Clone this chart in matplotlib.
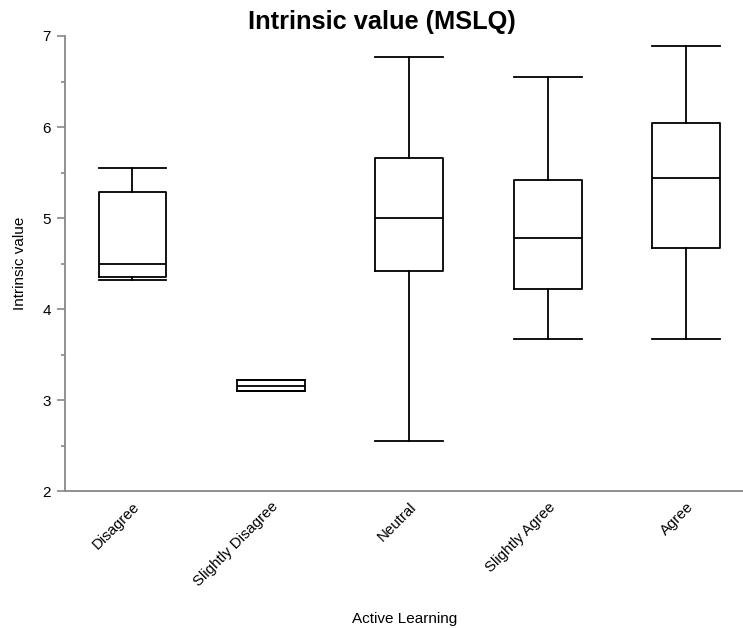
import matplotlib
matplotlib.use("Agg")
import matplotlib.pyplot as plt

categories = ["Disagree", "Slightly Disagree", "Neutral", "Slightly Agree", "Agree"]
whislo = [4.32, 3.10, 2.55, 3.67, 3.67]
q1 = [4.35, 3.10, 4.42, 4.22, 4.67]
med = [4.50, 3.16, 5.00, 4.78, 5.44]
q3 = [5.29, 3.22, 5.66, 5.42, 6.05]
whishi = [5.55, 3.22, 6.77, 6.55, 6.89]

plt.rcParams['font.family'] = ['Liberation Sans', 'DejaVu Sans']

fig = plt.figure(figsize=(7.43, 6.28), dpi=100)
ax = fig.add_axes([65/743, 1-491.3/628, 1-65/743, (491.3-36)/628])

stats = []
for i, c in enumerate(categories):
    stats.append(dict(label=c, whislo=whislo[i], q1=q1[i], med=med[i], q3=q3[i], whishi=whishi[i], fliers=[]))

lp = dict(color='black', linewidth=1.3)
ax.bxp(stats, positions=range(len(categories)), widths=0.49, showfliers=False,
       boxprops=lp, medianprops=lp, whiskerprops=lp, capprops=lp, capwidths=0.49)

ax.set_xlim(-0.487, 4.41)
ax.set_ylim(2, 7)
ax.set_yticks([2, 3, 4, 5, 6, 7])
ax.set_yticks([2.5, 3.5, 4.5, 5.5, 6.5], minor=True)
ax.tick_params(axis='y', which='major', length=6, width=1.2, color='#888888', labelsize=11, pad=4)
ax.tick_params(axis='y', which='minor', length=3, width=1.2, color='#888888')
ax.tick_params(axis='x', length=0, labelsize=10.8, pad=6)
ax.set_xticks(range(len(categories)))
ax.set_xticklabels(categories, rotation=45, ha='right', rotation_mode='anchor')
for s in ['top', 'right']:
    ax.spines[s].set_visible(False)
for s in ['left', 'bottom']:
    ax.spines[s].set_color('#888888')
    ax.spines[s].set_linewidth(1.3)

fig.text(381.5/743, 1-22/628, "Intrinsic value (MSLQ)", ha='center', va='center', fontsize=18.3, fontweight='bold')
fig.text(20/743, 1-263/628, "Intrinsic value", rotation=90, ha='center', va='center', fontsize=11)
fig.text(405/743, 1-619/628, "Active Learning", ha='center', va='center', fontsize=11)

fig.savefig("out.png", dpi=100)
